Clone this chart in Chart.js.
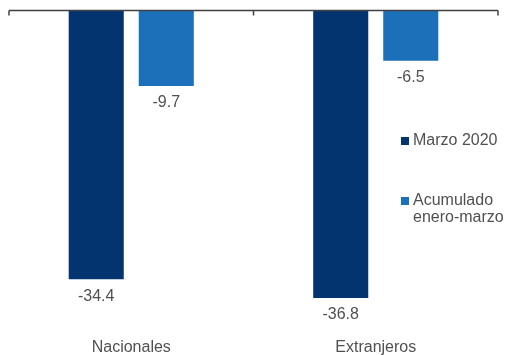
<!DOCTYPE html>
<html>
<head>
<meta charset="utf-8">
<script src="https://cdn.jsdelivr.net/npm/chart.js@4/dist/chart.umd.min.js"></script>
<style>
  html, body { margin: 0; padding: 0; background: #ffffff; }
  #c { display: block; }
</style>
</head>
<body>
<canvas id="c" width="510" height="355"></canvas>
<script>
// Variación anual (%) de visitantes, nacionales y extranjeros
const categories = ['Nacionales', 'Extranjeros'];
const seriesNames = ['Marzo 2020', 'Acumulado enero-marzo'];
const marzo2020 = [-34.4, -36.8];
const acumuladoEneroMarzo = [-9.7, -6.5];

const seriesColors = ['#033470', '#1b70b9'];
const textColor = '#505050';
const fontFamily = '"Liberation Sans", Arial, sans-serif';

// Category axis drawn at the zero line, with tick marks at category boundaries
const zeroAxisPlugin = {
  id: 'zeroAxis',
  afterDatasetsDraw(chart) {
    const { ctx, scales } = chart;
    const y0 = Math.round(scales.y.getPixelForValue(0)) + 0.5;
    const n = chart.data.labels.length;
    const step = (scales.x.right - scales.x.left) / n;
    ctx.save();
    ctx.strokeStyle = '#404040';
    ctx.lineWidth = 1.5;
    ctx.beginPath();
    ctx.moveTo(scales.x.left, y0);
    ctx.lineTo(scales.x.right, y0);
    for (let i = 0; i <= n; i++) {
      const x = scales.x.left + i * step;
      ctx.moveTo(x, y0);
      ctx.lineTo(x, y0 + 5);
    }
    ctx.stroke();
    ctx.restore();
  }
};

// Value labels under the end of each bar
const valueLabelPlugin = {
  id: 'valueLabels',
  afterDatasetsDraw(chart) {
    const { ctx } = chart;
    ctx.save();
    ctx.font = '16px ' + fontFamily;
    ctx.fillStyle = textColor;
    ctx.textAlign = 'center';
    ctx.textBaseline = 'middle';
    chart.data.datasets.forEach((ds, di) => {
      const meta = chart.getDatasetMeta(di);
      meta.data.forEach((bar, i) => {
        const { x, y } = bar.getProps(['x', 'y'], true);
        ctx.fillText(ds.data[i].toFixed(1), x, y + 17);
      });
    });
    ctx.restore();
  }
};

// Legend placed inside the plot on the right, with word wrapping
const sideLegendPlugin = {
  id: 'sideLegend',
  afterDraw(chart) {
    const { ctx } = chart;
    const markerX = 401, textX = 413, size = 8;
    const tops = [141, 201];
    const lineH = 17;
    const maxW = chart.width - textX;
    ctx.save();
    ctx.font = '16px ' + fontFamily;
    ctx.textBaseline = 'middle';
    ctx.textAlign = 'left';
    chart.data.datasets.forEach((ds, di) => {
      const words = ds.label.split(' ');
      const lines = [];
      let cur = '';
      words.forEach(w => {
        const test = cur ? cur + ' ' + w : w;
        if (cur && ctx.measureText(test).width > maxW) {
          lines.push(cur);
          cur = w;
        } else {
          cur = test;
        }
      });
      if (cur) lines.push(cur);
      const cy = tops[di];
      ctx.fillStyle = ds.backgroundColor;
      ctx.fillRect(markerX, cy - size / 2, size, size);
      ctx.fillStyle = textColor;
      lines.forEach((ln, li) => ctx.fillText(ln, textX, cy + li * lineH));
    });
    ctx.restore();
  }
};

new Chart(document.getElementById('c'), {
  type: 'bar',
  data: {
    labels: categories,
    datasets: [
      { label: seriesNames[0], data: marzo2020, backgroundColor: seriesColors[0],
        barPercentage: 0.786, categoryPercentage: 0.573 },
      { label: seriesNames[1], data: acumuladoEneroMarzo, backgroundColor: seriesColors[1],
        barPercentage: 0.786, categoryPercentage: 0.573 }
    ]
  },
  options: {
    responsive: false,
    animation: false,
    devicePixelRatio: 1,
    layout: { padding: { top: 10, left: 9, right: 12, bottom: 0 } },
    plugins: {
      legend: { display: false },
      tooltip: { enabled: false }
    },
    scales: {
      x: {
        grid: { display: false },
        border: { display: false },
        ticks: { color: textColor, font: { family: fontFamily, size: 16 }, padding: 7 },
        afterFit(scale) { scale.height = 32; }
      },
      y: { display: false, min: -40, max: 0 }
    }
  },
  plugins: [zeroAxisPlugin, valueLabelPlugin, sideLegendPlugin]
});
</script>
</body>
</html>
